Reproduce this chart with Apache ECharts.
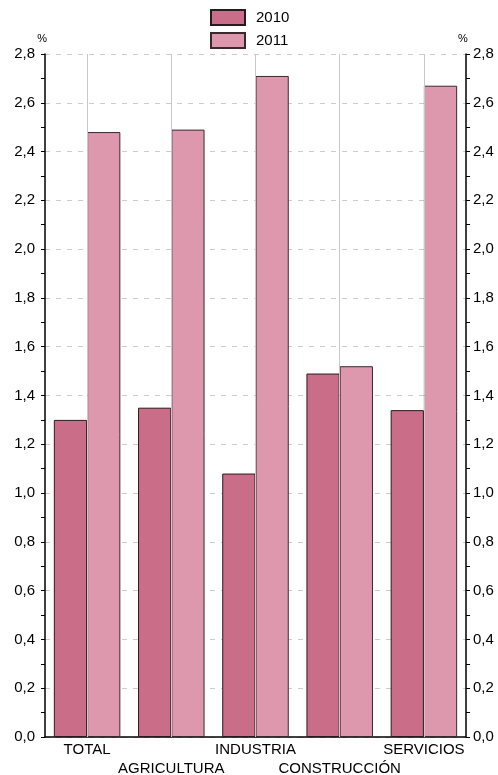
<!DOCTYPE html>
<html><head><meta charset="utf-8">
<script src="https://cdn.jsdelivr.net/npm/echarts@6/dist/echarts.min.js"></script>
<style>html,body{margin:0;padding:0;background:#fff}#c{width:498px;height:775px}</style>
</head><body><div id="c"></div>
<script>
const categories = ['TOTAL','AGRICULTURA','INDUSTRIA','CONSTRUCCIÓN','SERVICIOS'];
const values2010 = [1.30, 1.35, 1.08, 1.49, 1.34];
const values2011 = [2.48, 2.49, 2.71, 1.52, 2.67];
const seriesNames = ['2010','2011'];
const colors = ['#C96D88','#DE98AE'];

const font = 'Liberation Sans, Arial, sans-serif';
const fmt = v => v.toFixed(1).replace('.', ',');
function yAx(pos){
  return {
    type:'value', position:pos, min:0, max:2.8, interval:0.2,
    name:'%', nameLocation:'end', nameGap:10,
    nameTextStyle:{color:'#000', fontSize:11, fontFamily:font, align: pos==='left'?'right':'left', padding: pos==='left'?[0,-2,0,0]:[0,0,0,-8]},
    axisLine:{show:true, lineStyle:{color:'#000', width:1.5}},
    axisTick:{show:true, inside:false, length:4, lineStyle:{color:'#000'}},
    minorTick:{show:true, splitNumber:2, length:4, lineStyle:{color:'#000'}},
    axisLabel:{formatter:fmt, color:'#000', fontSize:15, fontFamily:font, margin: pos==='left'?10:7},
    splitLine:{show: pos==='left', lineStyle:{color:'#ccc', type:[5,6], width:1}}
  };
}
const chart = echarts.init(document.getElementById('c'), null, {renderer:'canvas'});
chart.setOption({
  animation:false,
  color: colors,
  textStyle:{fontFamily:font},
  legend:{
    orient:'vertical', left:210, top:9, padding:0, itemWidth:34, itemHeight:15, itemGap:6,
    icon:'rect', data: seriesNames,
    textStyle:{fontSize:15, color:'#000', fontFamily:font, padding:[0,0,0,6]}
  },
  grid:{left:45, right:32, top:54, bottom:38, containLabel:false, outerBoundsMode:'none'},
  xAxis:{
    type:'category', data:categories,
    axisLine:{show:true, lineStyle:{color:'#000', width:1.5}},
    axisTick:{show:false},
    axisLabel:{interval:0, color:'#000', fontSize:15, fontFamily:font, margin:3, lineHeight:19,
      formatter:(v,i)=> i%2===1 ? '\n'+v : v},
    splitLine:{show:false}
  },
  yAxis:[yAx('left'), yAx('right')],
  series:[
    {type:'line', name:'grid', data:[], z:1, silent:true, showSymbol:false,
     markLine:{silent:true, symbol:'none', label:{show:false}, lineStyle:{color:'#c8c8c8', type:'solid', width:1},
       data: categories.map(c=>({xAxis:c}))}},
    {type:'bar', name:seriesNames[0], data:values2010, z:2, barGap:'0%', barCategoryGap:'21%',
     itemStyle:{color:colors[0], borderColor:'#2a1a20', borderWidth:1}},
    {type:'bar', name:seriesNames[1], data:values2011, z:2,
     itemStyle:{color:colors[1], borderColor:'#3a2a30', borderWidth:1}}
  ]
});
</script></body></html>
